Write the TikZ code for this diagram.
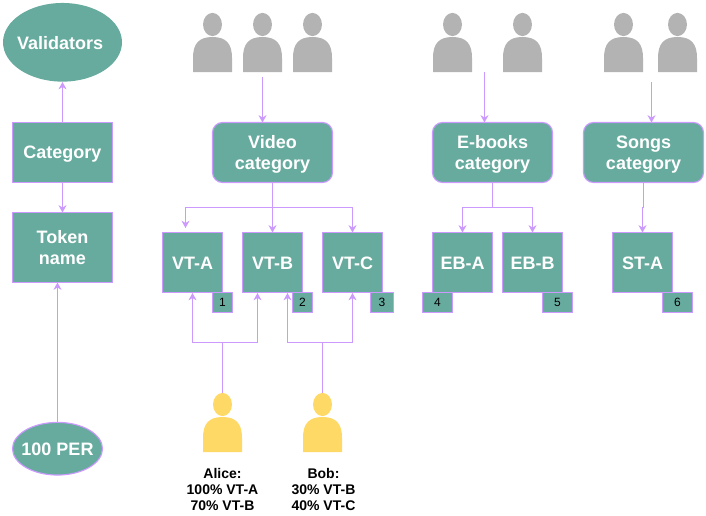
\documentclass[tikz,border=0pt]{standalone}
\usepackage{fontspec}
\setmainfont{Liberation Sans}
\usetikzlibrary{shapes.geometric,arrows.meta}
\definecolor{teal1}{HTML}{67AB9F}
\definecolor{purp}{HTML}{CC99FF}
\definecolor{greyp}{HTML}{B3B3B3}
\definecolor{yellp}{HTML}{FFD966}
\tikzset{
  base/.style={fill=teal1,draw=purp,line width=0.85pt,text=white,font=\fontsize{13.5pt}{15.4pt}\selectfont\bfseries,align=center,inner sep=0pt,outer sep=0pt},
  oval/.style={base,ellipse,inner xsep=-12pt,inner ysep=-4pt},
  sqbox/.style={base,rectangle,minimum width=45pt,minimum height=45pt},
  wbox/.style={base,rectangle,minimum width=75pt,minimum height=45pt},
  tallbox/.style={base,rectangle,minimum width=75pt,minimum height=52.5pt},
  catbox/.style={base,rectangle,rounded corners=7.5pt,minimum width=90pt,minimum height=45pt},
  badge/.style={fill=teal1,draw=purp,line width=0.85pt,text=black,font=\fontsize{9pt}{10pt}\selectfont,inner sep=0pt,outer sep=0pt,minimum height=15pt},
  conn/.style={draw=purp,line width=0.75pt,-{Stealth[length=5.5pt,width=6pt]}},
  plain/.style={draw=purp,line width=0.75pt},
  caption/.style={font=\fontsize{10.5pt}{12pt}\selectfont\bfseries,align=center,inner sep=0pt,text=black},
}
\newcommand{\lowr}[2]{\raisebox{-#1}[\height][\depth]{#2}}
\newcommand{\personfig}[3]{%
  \begin{scope}[shift={(#1,#2)}]
    \fill[#3] (0,24.5) ellipse[x radius=7.1pt,y radius=8.7pt];
    \fill[#3] (-19.5,72) -- (-19.5,58) .. controls (-19.5,44) and (-14,37) .. (0,37) .. controls (14,37) and (19.5,44) .. (19.5,58) -- (19.5,72) -- cycle;
  \end{scope}}
\begin{document}
\begin{tikzpicture}[x=0.75pt,y=-0.75pt]
\useasboundingbox (0,0) rectangle (706,515);
% people
\personfig{212.5}{0}{greyp}
\personfig{262.5}{0}{greyp}
\personfig{312.5}{0}{greyp}
\personfig{452.5}{0}{greyp}
\personfig{522.5}{0}{greyp}
\personfig{623.5}{0}{greyp}
\personfig{677.5}{0}{greyp}
\personfig{222.5}{380}{yellp}
\personfig{322.5}{380}{yellp}
% left column
\node[oval,minimum width=89.25pt,minimum height=59pt,draw=none] (val) at (62.5,42.3) {\hspace*{-3.6pt}\lowr{0.75pt}{Validators}};
\node[wbox] (cat) at (62.5,152.5) {\lowr{1.5pt}{Category}};
\node[tallbox] (tok) at (62.5,247.5) {Token\\name};
\node[oval,minimum width=67.5pt,minimum height=39.5pt] (per) at (57.5,448.7) {\lowr{0.75pt}{100 PER}};
% categories
\node[catbox] (video) at (272.5,152.5) {\lowr{1.5pt}{Video}\\\lowr{1.5pt}{category}};
\node[catbox] (ebooks) at (492.5,152.5) {\lowr{1.5pt}{E-books}\\\lowr{1.5pt}{category}};
\node[catbox] (songs) at (643.5,152.5) {\lowr{1.5pt}{Songs}\\\lowr{1.5pt}{category}};
% tokens
\node[sqbox] (vta) at (192.5,262.5) {\lowr{0.75pt}{VT-A}};
\node[sqbox] (vtb) at (272.5,262.5) {\lowr{0.75pt}{VT-B}};
\node[sqbox] (vtc) at (352.5,262.5) {\lowr{0.75pt}{VT-C}};
\node[sqbox] (eba) at (462.5,262.5) {\lowr{0.75pt}{EB-A}};
\node[sqbox] (ebb) at (532.5,262.5) {\lowr{0.75pt}{EB-B}};
\node[sqbox] (sta) at (642.5,262.5) {\lowr{0.75pt}{ST-A}};
% badges
\node[badge,minimum width=15pt] (b1) at (222.5,302.5) {1};
\node[badge,minimum width=15pt] (b2) at (302.5,302.5) {2};
\node[badge,minimum width=17.25pt] (b3) at (382,302.5) {3};
\node[badge,minimum width=22.5pt] (b4) at (437.5,302.5) {4};
\node[badge,minimum width=22.5pt] (b5) at (557.5,302.5) {5};
\node[badge,minimum width=22.5pt] (b6) at (677.5,302.5) {6};
% captions
\node[caption] (alice) at (222.5,489) {Alice:\\100\% VT-A\\70\% VT-B};
\node[caption] (bob) at (323.5,489) {Bob:\\30\% VT-B\\40\% VT-C};
% free ends
\coordinate (valin) at (62.5,82);
\coordinate (vidp) at (262.5,77);
\coordinate (vidin) at (262.5,122.5);
\coordinate (ebp) at (484.5,72);
\coordinate (ebin) at (484.5,122.5);
\coordinate (sop) at (651.5,82);
\coordinate (soin) at (651.5,122.5);
\coordinate (perin) at (57.5,282.5);
\coordinate (aup) at (222.5,393);
\coordinate (bup) at (322.5,393);
\coordinate (vtaout) at (185.5,228);
% connectors
\draw[conn] (cat.north) -- (valin);
\draw[conn] (cat.south) -- (tok.north);
\draw[conn] (per.north) -- (perin);
\draw[conn] (vidp) -- (vidin);
\draw[conn] (ebp) -- (ebin);
\draw[conn] (sop) -- (soin);
\draw[conn] (video.south) -- (vtb.north);
\draw[conn] (272.5,207.5) -| (vtaout);
\draw[conn] (272.5,207.5) -| (vtc.north);
\draw[plain] (ebooks.south) -- (492.5,207.5);
\draw[conn] (492.5,207.5) -| (eba.north);
\draw[conn] (492.5,207.5) -| (ebb.north);
\draw[conn] (songs.south) -- (643.5,207) -- (642.5,207) -- (sta.north);
\draw[plain] (aup) -- (222.5,342.5);
\draw[conn] (222.5,342.5) -| (192.5,293);
\draw[conn] (222.5,342.5) -| (257.5,293);
\draw[plain] (bup) -- (322.5,342.5);
\draw[conn] (322.5,342.5) -| (287.5,293);
\draw[conn] (322.5,342.5) -| (352.5,293);
\end{tikzpicture}
\end{document}
